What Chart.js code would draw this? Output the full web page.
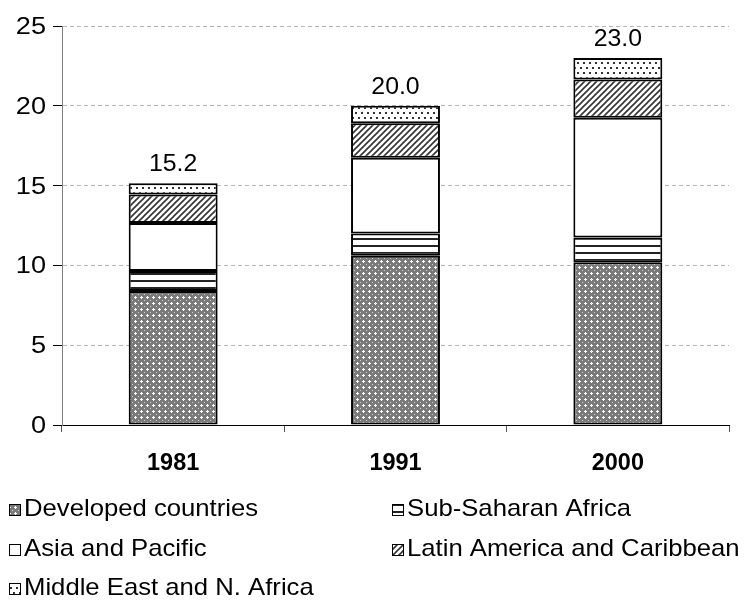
<!DOCTYPE html>
<html>
<head>
<meta charset="utf-8">
<script src="https://cdn.jsdelivr.net/npm/chart.js@4"></script>
<style>
  body { margin: 0; background: #fff; }
  #wrap { width: 751px; height: 600px; }
</style>
</head>
<body>
<div id="wrap"><canvas id="chart" width="751" height="600"></canvas></div>
<script>
  // data
  const years = ['1981', '1991', '2000'];
  const developed = [8.4, 10.6, 10.2];
  const subSaharan = [1.25, 1.4, 1.55];
  const asiaPacific = [3.0, 4.75, 7.5];
  const latinAmerica = [1.8, 2.15, 2.4];
  const middleEast = [0.7, 1.1, 1.35];
  const totals = [15.2, 20.0, 23.0];
  const seriesNames = ['Developed countries', 'Sub-Saharan Africa', 'Asia and Pacific',
    'Latin America and Caribbean', 'Middle East and N. Africa'];

  const FONT = '"Liberation Sans", Arial, sans-serif';

  const canvas = document.getElementById('chart');
  const ctx = canvas.getContext('2d');

  function makePattern(w, h, draw) {
    const c = document.createElement('canvas');
    c.width = w;
    c.height = h;
    const g = c.getContext('2d');
    draw(g);
    return ctx.createPattern(c, 'repeat');
  }

  const crossPattern = makePattern(6, 6, g => {
    g.fillStyle = '#7a7a7a';
    g.fillRect(0, 0, 6, 6);
    g.fillStyle = '#ffffff';
    g.fillRect(3, 2, 1, 3);
    g.fillRect(2, 3, 3, 1);
    g.fillStyle = '#d0d0d0';
    g.fillRect(0, 0, 1, 1);
  });
  const hLinePattern = makePattern(4, 7, g => {
    g.fillStyle = '#fff';
    g.fillRect(0, 0, 4, 7);
    g.fillStyle = '#222';
    g.fillRect(0, 0, 4, 2);
  });
  const whiteFill = '#ffffff';
  const diagPattern = makePattern(6, 6, g => {
    g.fillStyle = '#fff';
    g.fillRect(0, 0, 6, 6);
    g.strokeStyle = '#333';
    g.lineWidth = 1.6;
    g.beginPath();
    g.moveTo(-1, 7); g.lineTo(7, -1);
    g.moveTo(-1, 1); g.lineTo(1, -1);
    g.moveTo(5, 7); g.lineTo(7, 5);
    g.stroke();
  });
  const dotPattern = makePattern(6, 10, g => {
    g.fillStyle = '#fff';
    g.fillRect(0, 0, 6, 10);
    g.fillStyle = '#333';
    g.fillRect(1, 2, 2, 2);
    g.fillRect(4, 7, 2, 2);
  });

  const fills = [crossPattern, hLinePattern, whiteFill, diagPattern, dotPattern];
  const series = [developed, subSaharan, asiaPacific, latinAmerica, middleEast];

  // the original text is a bit wider than Arial, so stretch it sideways
  function wideText(c, text, x, y, align, sx) {
    c.save();
    c.translate(x, y);
    c.scale(sx, 1);
    c.textAlign = align;
    c.fillText(text, 0, 0);
    c.restore();
  }

  const textPlugin = {
    id: 'textPlugin',
    afterDraw(chart) {
      const c = chart.ctx;
      const xs = chart.scales.x;
      const ys = chart.scales.y;
      c.save();
      c.fillStyle = '#000';
      c.textBaseline = 'alphabetic';

      // y tick labels
      c.font = '23px ' + FONT;
      ys.ticks.forEach(t => {
        wideText(c, String(t.value), 46, ys.getPixelForValue(t.value) + 8, 'right', 1.18);
      });

      // category labels
      c.font = 'bold 23px ' + FONT;
      years.forEach((y, i) => {
        wideText(c, y, xs.getPixelForValue(i), 470, 'center', 1.02);
      });

      // totals above the stacks
      c.font = '23px ' + FONT;
      const top = chart.getDatasetMeta(series.length - 1).data;
      totals.forEach((v, i) => {
        wideText(c, v.toFixed(1), top[i].x, top[i].y - 12, 'center', 1.08);
      });

      // legend, two columns
      const colX = [9, 392];
      const rowY = [516, 556, 595];
      c.font = '24px ' + FONT;
      seriesNames.forEach((name, i) => {
        const x = colX[i % 2];
        const y = rowY[Math.floor(i / 2)];
        c.fillStyle = fills[i];
        c.fillRect(x, y - 12, 12, 12);
        c.strokeStyle = '#000';
        c.lineWidth = 1;
        c.strokeRect(x + 0.5, y - 11.5, 11, 11);
        c.fillStyle = '#000';
        wideText(c, name, x + 15, y, 'left', 1.07);
      });
      c.restore();
    }
  };

  new Chart(ctx, {
    type: 'bar',
    data: {
      labels: years,
      datasets: series.map((d, i) => ({
        label: seriesNames[i],
        data: d,
        backgroundColor: fills[i],
        borderColor: '#000',
        borderWidth: 2,
        borderSkipped: false,
        categoryPercentage: 0.4,
        barPercentage: 1.0
      }))
    },
    options: {
      responsive: false,
      animation: false,
      layout: { padding: { top: 26, right: 22, left: 0, bottom: 0 } },
      plugins: {
        legend: { display: false },
        tooltip: { enabled: false }
      },
      scales: {
        x: {
          stacked: true,
          afterFit: scale => { scale.height = 175; },
          ticks: { display: false },
          grid: {
            drawOnChartArea: false,
            drawTicks: true,
            tickLength: 7,
            tickColor: '#555',
            offset: true
          },
          border: { color: '#000', width: 1 }
        },
        y: {
          stacked: true,
          min: 0,
          max: 25,
          afterFit: scale => { scale.width = 62; },
          ticks: { display: false, stepSize: 5 },
          grid: {
            color: c => (c.tick && c.tick.value === 0) ? 'rgba(0,0,0,0)' : '#b4b4b4',
            tickColor: '#000',
            tickLength: 9,
            drawTicks: true
          },
          border: { color: '#808080', width: 1, dash: [4, 3] }
        }
      }
    },
    plugins: [textPlugin]
  });
</script>
</body>
</html>
